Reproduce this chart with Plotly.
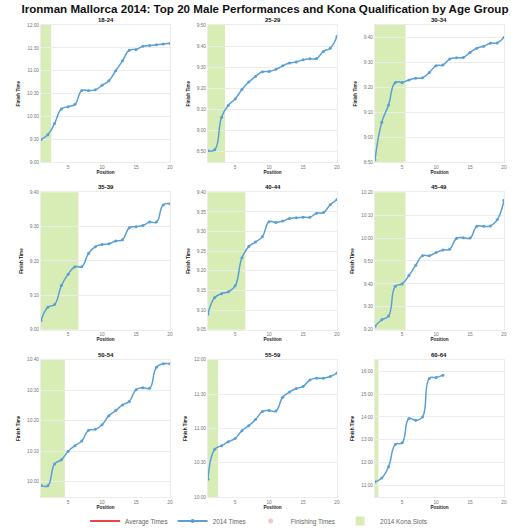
import pandas as pd
import plotly.graph_objects as go
from plotly.subplots import make_subplots

# ---- data ----
age_groups = ['18-24', '25-29', '30-34', '35-39', '40-44', '45-49', '50-54', '55-59', '60-64']

# Kona slots per age group (2014)
kona_slots = [2, 3, 5, 6, 6, 5, 4, 2, 1]

# top 20 finishing times (h:mm[:ss]) per age group
times_18_24 = ['9:30', '9:36', '9:51', '10:10', '10:13', '10:16', '10:34', '10:34', '10:35', '10:41',
               '10:47', '11:00', '11:13', '11:27', '11:28', '11:32', '11:33', '11:34', '11:35', '11:36']
times_25_29 = ['8:50:30', '8:51', '9:06:20', '9:12', '9:15', '9:19:30', '9:23', '9:25:40', '9:27:50', '9:28',
               '9:29', '9:30:40', '9:32', '9:32:30', '9:33:30', '9:34', '9:34:10', '9:37:30', '9:39', '9:44:40']
times_30_34 = ['8:51', '9:06', '9:13', '9:22', '9:22', '9:23', '9:23:40', '9:23:50', '9:26', '9:28:40',
               '9:29', '9:31:20', '9:31:50', '9:32', '9:34', '9:35:40', '9:36:30', '9:37:40', '9:37:50', '9:40']
times_35_39 = ['9:02:40', '9:06:30', '9:07:20', '9:12:50', '9:16:10', '9:18:20', '9:18:20', '9:22:10', '9:24:10', '9:24:50',
               '9:25', '9:25:50', '9:26:10', '9:29:40', '9:30', '9:30:20', '9:31:20', '9:31:20', '9:36:20', '9:36:40']
times_40_44 = ['9:09', '9:13:10', '9:14:10', '9:14:40', '9:16:10', '9:23:20', '9:26:10', '9:27:20', '9:28:40', '9:32:30',
               '9:32:20', '9:32:40', '9:33:20', '9:33:30', '9:33:40', '9:33:40', '9:34:40', '9:34:50', '9:36:50', '9:38:10']
times_45_49 = ['9:21:30', '9:24:20', '9:26', '9:39', '9:40', '9:43:40', '9:48:10', '9:52:20', '9:52:20', '9:53:40',
               '9:54:50', '9:55:10', '9:59:50', '10:00:10', '10:00', '10:05:10', '10:05:10', '10:05:20', '10:08', '10:16:30']
times_50_54 = ['9:58:50', '9:58:40', '10:05:50', '10:07:10', '10:10', '10:11:50', '10:13:20', '10:16:50', '10:17:10', '10:18:40',
               '10:21:40', '10:23:20', '10:25:10', '10:26:20', '10:30:10', '10:30:50', '10:30:40', '10:37:30', '10:38:40', '10:38:40']
times_55_59 = ['10:15:30', '10:41:40', '10:44:50', '10:48:20', '10:51:10', '10:58', '11:02:20', '11:07:40', '11:14:40', '11:15:30',
               '11:15:10', '11:27:10', '11:31:40', '11:34:50', '11:36:40', '11:42:10', '11:43:50', '11:43:50', '11:45:20', '11:48:20']
times_60_64 = ['11:09:40', '11:20', '11:49', '12:47:40', '12:52', '13:55:50', '13:51', '14:00', '15:40:50', '15:43:20',
               '15:49:30']

all_times = [times_18_24, times_25_29, times_30_34, times_35_39, times_40_44,
             times_45_49, times_50_54, times_55_59, times_60_64]

# y-axis ranges and tick step (minutes) per panel
y_ranges = [('9:00', '12:00'), ('8:45', '9:50'), ('8:50', '9:45'),
            ('9:00', '9:40'), ('9:05', '9:40'), ('9:20', '10:20'),
            ('9:55', '10:40'), ('10:00', '12:00'), ('10:30', '16:30')]
y_steps = [30, 10, 10, 10, 5, 10, 10, 30, 60]

DAY = '2014-09-27 '


def to_ts(t):
    return pd.to_datetime(DAY + t)


LINE_BLUE = '#5a9fd6'
KONA_GREEN = '#d8ecb5'
GRID = '#ececec'
TICK_GREY = '#777777'

fig = make_subplots(rows=3, cols=3, subplot_titles=age_groups,
                    horizontal_spacing=0.082, vertical_spacing=0.0636)

for i, grp in enumerate(age_groups):
    r, c = i // 3 + 1, i % 3 + 1
    times = all_times[i]
    pos = list(range(1, len(times) + 1))
    fig.add_trace(go.Scatter(
        x=pos, y=[to_ts(t) for t in times], mode='lines+markers',
        line=dict(color=LINE_BLUE, width=1.5, shape='spline', smoothing=1.3),
        marker=dict(color=LINE_BLUE, size=3),
        name='2014 Times', showlegend=False, hoverinfo='skip'
    ), row=r, col=c)

    axn = '' if i == 0 else str(i + 1)
    fig.add_shape(type='rect', xref='x' + axn, yref='y' + axn + ' domain',
                  x0=0.5, x1=kona_slots[i] + 0.5, y0=0, y1=1,
                  fillcolor=KONA_GREEN, line_width=0, layer='below')

    fig.update_xaxes(range=[1, 20], tickvals=[5, 10, 15, 20],
                     title_text='<b>Position</b>', title_font=dict(size=4.6, color='#222'),
                     title_standoff=1, tickfont=dict(size=4.8, color=TICK_GREY),
                     showgrid=False, zeroline=False, showline=True, mirror=True,
                     linecolor=GRID, linewidth=1, ticks='', row=r, col=c)
    y0, y1 = y_ranges[i]
    fig.update_yaxes(type='date', range=[to_ts(y0), to_ts(y1)],
                     dtick=y_steps[i] * 60000, tickformat='%-H:%M',
                     title_text='<b>Finish Time</b>', title_font=dict(size=4.6, color='#222'),
                     title_standoff=6, tickfont=dict(size=4.8, color=TICK_GREY),
                     showgrid=True, gridcolor=GRID, gridwidth=1, zeroline=False,
                     showline=True, mirror=True, linecolor=GRID, ticks='',
                     row=r, col=c)

# legend entries
fig.add_trace(go.Scatter(x=[None], y=[None], mode='lines', name='Average Times',
                         line=dict(color='#e8493f', width=2)))
fig.add_trace(go.Scatter(x=[None], y=[None], mode='lines+markers', name='2014 Times',
                         line=dict(color=LINE_BLUE, width=2), marker=dict(color=LINE_BLUE, size=4)))
fig.add_trace(go.Scatter(x=[None], y=[None], mode='markers', name='Finishing Times',
                         marker=dict(color='#f6c6c6', size=5)))
fig.add_trace(go.Scatter(x=[None], y=[None], mode='markers', name='2014 Kona Slots',
                         marker=dict(color=KONA_GREEN, size=9, symbol='square')))

for ann in fig.layout.annotations:
    ann.font = dict(size=6, color='#111', family='Liberation Sans')
    ann.text = '<b>' + ann.text + '</b>'

fig.update_layout(
    width=530, height=530,
    margin=dict(l=41, r=26, t=25, b=33, autoexpand=False),
    paper_bgcolor='white', plot_bgcolor='white',
    font=dict(family='Liberation Sans, Arial, sans-serif'),
    title=dict(text='<b>Ironman Mallorca 2014: Top 20 Male Performances and Kona Qualification by Age Group</b>',
               x=0.5, xanchor='center', y=0.983, yanchor='middle', yref='container',
               font=dict(size=11.6, color='#111')),
    legend=dict(orientation='h', x=0.47, xanchor='center', y=-0.051, yanchor='middle',
                font=dict(size=6.4, color='#666'), itemwidth=30),
    showlegend=True,
)

# drop the default page margin so the 530x530 figure fills the window
fig.write_html("out.html", config={'displayModeBar': False},
               post_script="document.body.style.margin='0';document.body.style.overflow='hidden';")
